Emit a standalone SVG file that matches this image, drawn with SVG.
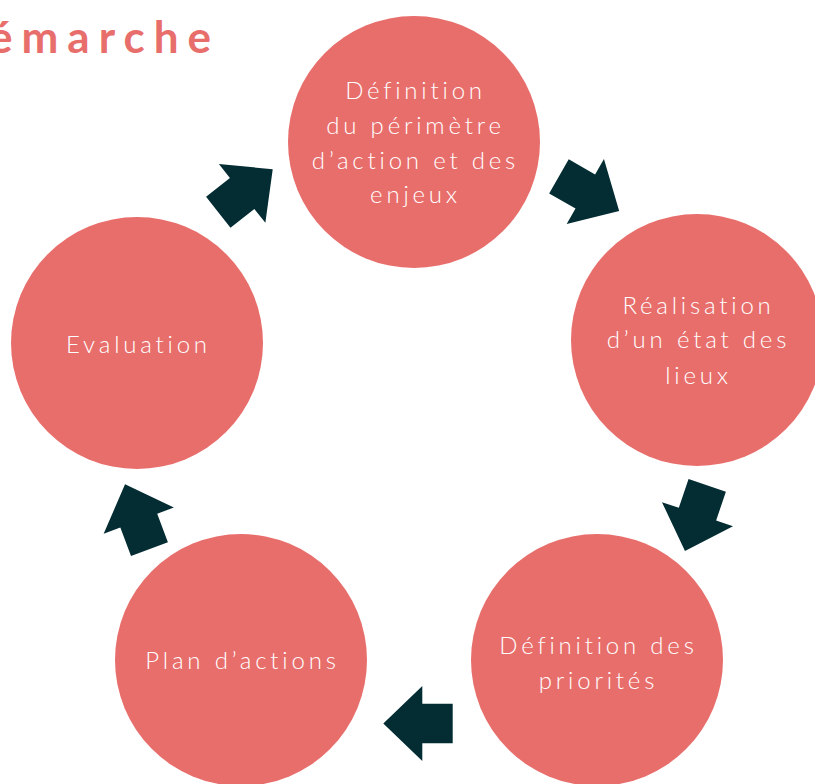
<svg xmlns="http://www.w3.org/2000/svg" xmlns:xlink="http://www.w3.org/1999/xlink" width="815" height="784" viewBox="0 0 815 784">
<style>
.c{fill:#E86E6C}
.a{fill:#032D33}
.t{fill:#FFFFFF;font-family:"Lato","Open Sans",sans-serif;font-weight:300;font-size:24px;letter-spacing:3.8px;text-anchor:middle}
.title{fill:#E86E6C;font-family:"Lato","Open Sans",sans-serif;font-weight:700;font-size:44px;letter-spacing:9px;text-anchor:end}
</style>
<defs>
<polygon id="arr" points="-34.7,-19.7 -4.3,-19.7 -4.3,-37.5 34.7,0 -4.3,37.5 -4.3,19.7 -34.7,19.7"/>
</defs>
<rect width="815" height="784" fill="#FFFFFF"/>
<text class="title" x="220" y="53">émarche</text>
<g id="connectors">
<use xlink:href="#arr" class="a" transform="translate(589.05,193.65) rotate(29.8)"/>
<use xlink:href="#arr" class="a" transform="translate(696.1,518.25) rotate(108.7)"/>
<use xlink:href="#arr" class="a" transform="translate(418,723.5) rotate(180)"/>
<use xlink:href="#arr" class="a" transform="translate(137.25,516.65) rotate(249.4)"/>
<use xlink:href="#arr" class="a" transform="translate(245.5,190.75) rotate(-38.3)"/>
</g>
<g id="node1">
<circle class="c" cx="414" cy="142" r="126"/>
<text class="t" x="415.5" y="99">Définition</text>
<text class="t" x="415.5" y="134">du périmètre</text>
<text class="t" x="415.5" y="169">d’action et des</text>
<text class="t" x="415.5" y="203">enjeux</text>
</g>
<g id="node2">
<circle class="c" cx="697" cy="340" r="126"/>
<text class="t" x="698.5" y="314">Réalisation</text>
<text class="t" x="698.5" y="348">d’un état des</text>
<text class="t" x="698.5" y="384">lieux</text>
</g>
<g id="node3">
<circle class="c" cx="597" cy="660" r="126"/>
<text class="t" x="598.5" y="654">Définition des</text>
<text class="t" x="598.5" y="689">priorités</text>
</g>
<g id="node4">
<circle class="c" cx="241" cy="660" r="126"/>
<text class="t" x="242.5" y="669">Plan d’actions</text>
</g>
<g id="node5">
<circle class="c" cx="137" cy="343" r="126"/>
<text class="t" x="138.5" y="353">Evaluation</text>
</g>
</svg>
